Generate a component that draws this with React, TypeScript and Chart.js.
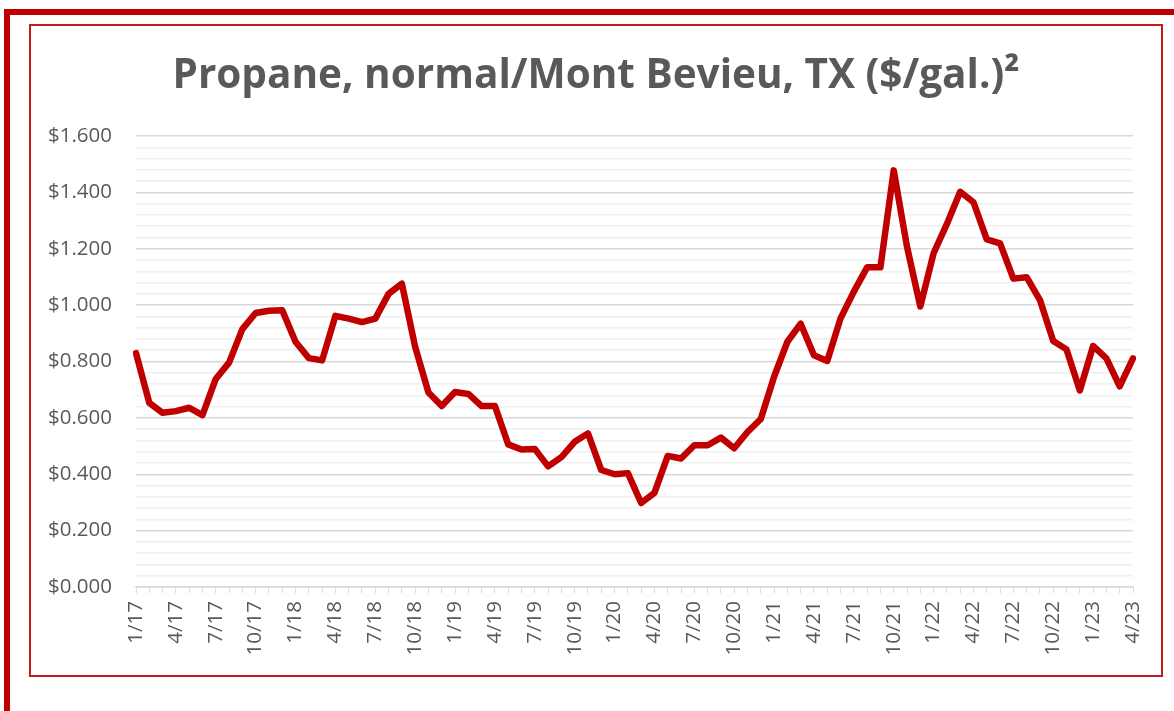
import React, { useEffect, useRef } from "react";
import { Chart, registerables } from "chart.js";

Chart.register(...registerables);

const titleText = "Propane, normal/Mont Bevieu, TX ($/gal.)²";

const months = [
  "1/17", "2/17", "3/17", "4/17", "5/17", "6/17", "7/17", "8/17", "9/17", "10/17", "11/17", "12/17",
  "1/18", "2/18", "3/18", "4/18", "5/18", "6/18", "7/18", "8/18", "9/18", "10/18", "11/18", "12/18",
  "1/19", "2/19", "3/19", "4/19", "5/19", "6/19", "7/19", "8/19", "9/19", "10/19", "11/19", "12/19",
  "1/20", "2/20", "3/20", "4/20", "5/20", "6/20", "7/20", "8/20", "9/20", "10/20", "11/20", "12/20",
  "1/21", "2/21", "3/21", "4/21", "5/21", "6/21", "7/21", "8/21", "9/21", "10/21", "11/21", "12/21",
  "1/22", "2/22", "3/22", "4/22", "5/22", "6/22", "7/22", "8/22", "9/22", "10/22", "11/22", "12/22",
  "1/23", "2/23", "3/23", "4/23",
];

const prices = [
  0.83, 0.653, 0.618, 0.624, 0.636, 0.61, 0.738, 0.796, 0.915, 0.972, 0.98, 0.982,
  0.87, 0.812, 0.804, 0.962, 0.952, 0.94, 0.952, 1.04, 1.076, 0.852, 0.69, 0.642,
  0.692, 0.685, 0.642, 0.642, 0.506, 0.488, 0.49, 0.428, 0.461, 0.515, 0.545, 0.415,
  0.4, 0.404, 0.298, 0.334, 0.465, 0.456, 0.503, 0.503, 0.53, 0.492, 0.55, 0.596,
  0.746, 0.87, 0.934, 0.822, 0.802, 0.953, 1.048, 1.134, 1.134, 1.478, 1.207, 0.995,
  1.184, 1.288, 1.402, 1.365, 1.233, 1.219, 1.094, 1.099, 1.018, 0.873, 0.843, 0.697,
  0.855, 0.811, 0.712, 0.811,
];

const yMin = 0;
const yMax = 1.6;
const yMinorStep = 0.04;
const minorPerMajor = 5;
const xLabelEvery = 3;

const textColor = "#595959";
const lineColor = "#c00000";

export default function App() {
  const ref = useRef<HTMLCanvasElement>(null);

  useEffect(() => {
    const canvas = ref.current;
    if (!canvas) return;
    const chart = new Chart(canvas, {
      type: "line",
      data: {
        labels: months,
        datasets: [
          {
            data: prices,
            borderColor: lineColor,
            backgroundColor: lineColor,
            borderWidth: 6.5,
            pointRadius: 0,
            tension: 0,
            borderJoinStyle: "round",
            borderCapStyle: "round",
            fill: false,
          },
        ],
      },
      options: {
        animation: false,
        responsive: false,
        maintainAspectRatio: false,
        devicePixelRatio: 1,
        layout: { padding: { left: 30, right: 12, top: 24, bottom: 35 } },
        plugins: {
          legend: { display: false },
          tooltip: { enabled: false },
          title: {
            display: true,
            text: titleText,
            color: textColor,
            font: { family: "'Open Sans'", weight: "bold", size: 40.5, lineHeight: 1.2 },
            padding: { top: 28, bottom: 35.4 },
          },
        },
        scales: {
          x: {
            type: "category",
            offset: false,
            grid: {
              display: true,
              drawOnChartArea: false,
              drawTicks: true,
              tickLength: 6,
              color: "#d9d9d9",
              lineWidth: 1,
            },
            border: { display: true, color: "#d9d9d9", width: 1.5 },
            ticks: {
              autoSkip: false,
              minRotation: 90,
              maxRotation: 90,
              padding: 8,
              color: textColor,
              font: { family: "'Open Sans'", size: 20.5 },
              callback: (_v: any, i: number) => (i % xLabelEvery === 0 ? months[i] : ""),
            },
            afterFit: (s: any) => {
              s.height = 89;
            },
          },
          y: {
            min: yMin,
            max: yMax,
            grid: {
              display: true,
              drawTicks: false,
              color: (ctx: any) =>
                Math.round(ctx.tick.value / yMinorStep) % minorPerMajor === 0 ? "#d9d9d9" : "#f0f0f0",
              lineWidth: 1.5,
            },
            border: { display: false },
            ticks: {
              stepSize: yMinorStep,
              autoSkip: false,
              maxTicksLimit: 100,
              padding: 24,
              color: textColor,
              font: { family: "'Open Sans'", size: 20.5 },
              callback: (v: any) => {
                const n = Math.round(Number(v) / yMinorStep);
                return n % minorPerMajor === 0 ? "$" + (n * yMinorStep).toFixed(3) : "";
              },
            },
            afterFit: (s: any) => {
              s.width = 106;
            },
          },
          pad: {
            type: "linear",
            position: "right",
            display: true,
            grid: { display: false, drawTicks: false },
            border: { display: false },
            ticks: { display: false },
            afterFit: (s: any) => {
              s.width = 29;
            },
          },
        },
      },
    } as any);
    return () => chart.destroy();
  }, []);

  return (
    <div
      style={{
        position: "fixed",
        left: 0,
        top: 0,
        width: 1174,
        height: 711,
        background: "#ffffff",
        overflow: "hidden",
      }}
    >
      <div
        style={{
          position: "absolute",
          left: 4,
          top: 9,
          width: 1300,
          height: 900,
          border: "6px solid #c00000",
        }}
      />
      <div
        style={{
          position: "absolute",
          left: 29,
          top: 24,
          width: 1130,
          height: 649,
          border: "2px solid #c8161d",
        }}
      />
      <canvas
        ref={ref}
        width={1174}
        height={711}
        style={{ position: "absolute", left: 0, top: 0, width: 1174, height: 711 }}
      />
    </div>
  );
}
